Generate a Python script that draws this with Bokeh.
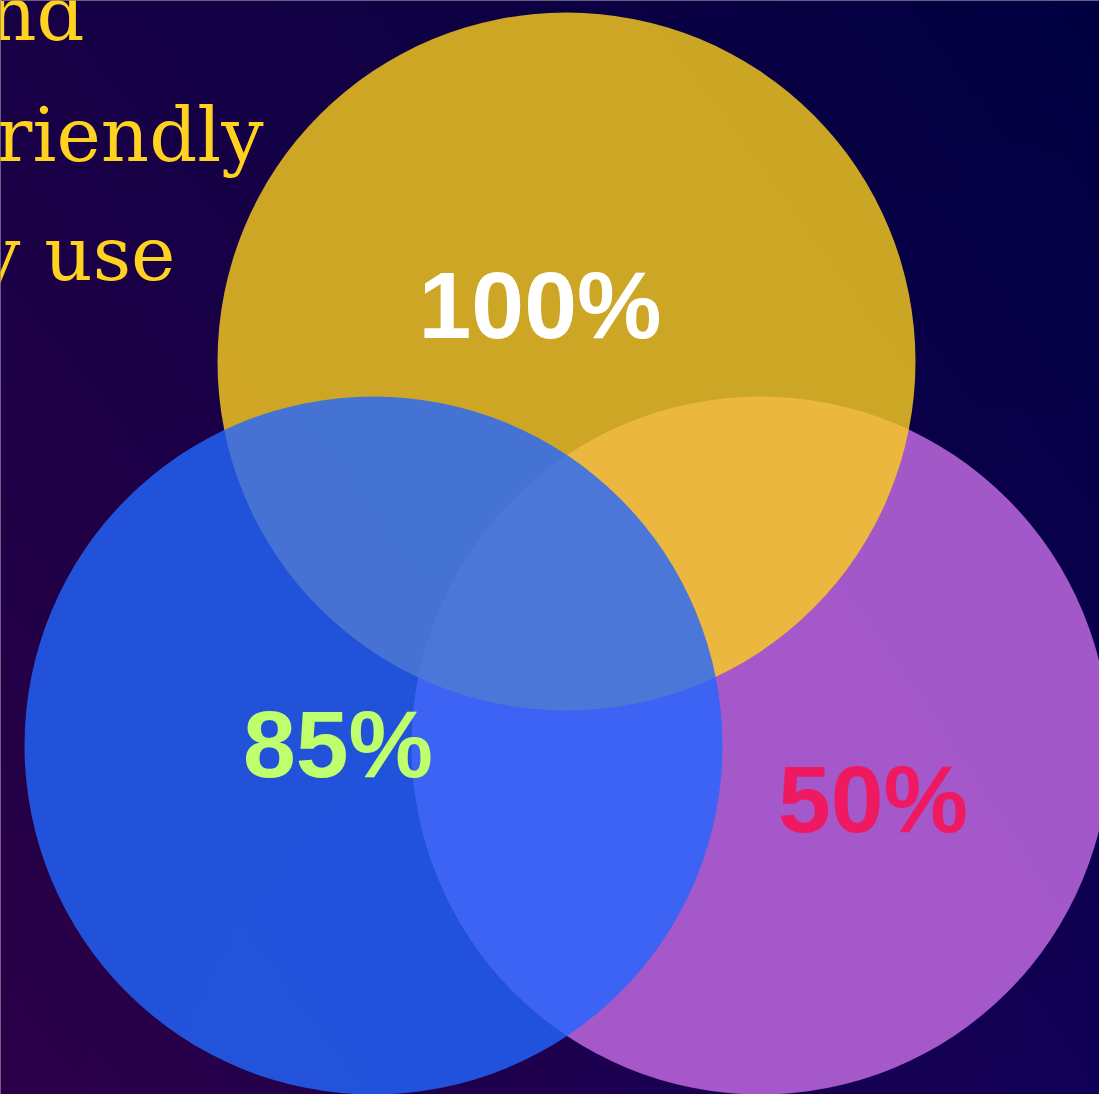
import numpy as np
from bokeh.plotting import figure
from bokeh.models import Range1d, ColumnDataSource
from bokeh.core.properties import value
from bokeh.embed import file_html
from bokeh.resources import INLINE

# ---- data ----
sets = ["yellow", "blue", "purple"]
percent_values = [100, 85, 50]
percent_labels = [f"{v}%" for v in percent_values]
side_text_lines = ["nd", "riendly", "y use"]

# ---- layout (reference pixel coordinates) ----
W, H = 1099, 1094
circle_cx = {"yellow": 566, "blue": 373, "purple": 760}
circle_cy = {"yellow": 361, "blue": 745, "purple": 745}
circle_r = 349
circle_fill = {"yellow": "#FCCF1D", "blue": "#2366FF", "purple": "#C96EE8"}
draw_order = ["purple", "yellow", "blue"]

LABEL_SIZE = 95
label_x = {"yellow": 539.5, "blue": 337.5, "purple": 872.5}
label_base = {"yellow": 341, "blue": 780, "purple": 835}
label_color = {"yellow": "#FFFFFF", "blue": "#BFFF6E", "purple": "#EE1960"}

SIDE_SIZE = 75
side_x = [84, 263, 175]
side_base = [42, 163, 282]
SHIFT = 0.38  # empirical baseline correction (fraction of font size)

p = figure(width=W, height=H,
           x_range=Range1d(0, W), y_range=Range1d(H, 0),
           output_backend="svg", toolbar_location=None, min_border=0)
p.axis.visible = False
p.grid.visible = False
p.outline_line_color = None
p.background_fill_color = "#12003f"
p.border_fill_color = "#12003f"

# background gradient (bilinear between corner colours)
nx, ny = 220, 220
tl = np.array([24, 0, 70.0]); tr = np.array([0, 0, 64.0])
bl = np.array([44, 0, 72.0]); br = np.array([17, 0, 86.0])
u = np.linspace(0, 1, nx)[None, :, None]
v = np.linspace(0, 1, ny)[:, None, None]
col = (1 - v) * ((1 - u) * tl + u * tr) + v * ((1 - u) * bl + u * br)
img = np.empty((ny, nx), dtype=np.uint32)
view = img.view(dtype=np.uint8).reshape((ny, nx, 4))
view[:, :, 0] = col[:, :, 0].astype(np.uint8)
view[:, :, 1] = col[:, :, 1].astype(np.uint8)
view[:, :, 2] = col[:, :, 2].astype(np.uint8)
view[:, :, 3] = 255
p.image_rgba(image=[img], x=0, y=0, dw=W, dh=H)

for s in draw_order:
    p.circle(x=[circle_cx[s]], y=[circle_cy[s]], radius=circle_r,
             fill_color=circle_fill[s], fill_alpha=0.8, line_color=None)

src = ColumnDataSource(dict(
    x=[label_x[s] for s in sets],
    y=[label_base[s] - SHIFT * LABEL_SIZE for s in sets],
    t=percent_labels,
    c=[label_color[s] for s in sets],
))
p.text(x="x", y="y", text="t", text_color="c", source=src,
       text_font=value("Liberation Sans"), text_font_style="bold",
       text_font_size=f"{LABEL_SIZE}px", text_align="center",
       text_baseline="alphabetic")

side_src = ColumnDataSource(dict(
    x=side_x, y=[b - SHIFT * SIDE_SIZE for b in side_base], t=side_text_lines))
p.text(x="x", y="y", text="t", source=side_src, text_color="#FFD21F",
       text_font=value("DejaVu Serif"), text_font_size=f"{SIDE_SIZE}px",
       text_align="right", text_baseline="alphabetic")

open("out.html", "w").write(file_html(p, INLINE))
